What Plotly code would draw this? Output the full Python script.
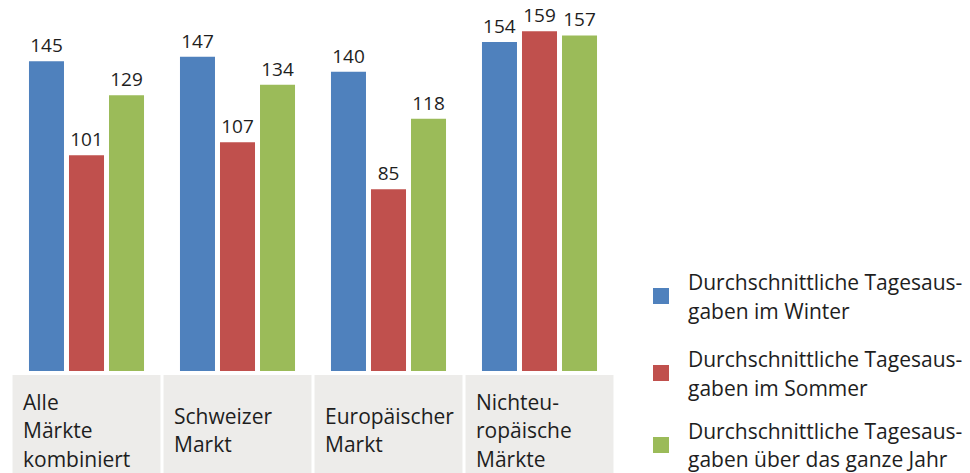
import plotly.graph_objects as go

categories = ["Alle\nMärkte\nkombiniert", "Schweizer\nMarkt", "Europäischer\nMarkt", "Nichteu-\nropäische\nMärkte"]
series_names = [
    "Durchschnittliche Tagesaus-\ngaben im Winter",
    "Durchschnittliche Tagesaus-\ngaben im Sommer",
    "Durchschnittliche Tagesaus-\ngaben über das ganze Jahr",
]
winter = [145, 147, 140, 154]
sommer = [101, 107, 85, 159]
jahr = [129, 134, 118, 157]
colors = ["#4F81BD", "#C0504D", "#9BBB59"]

W, H = 970, 473
ML = 11
PLOT_RIGHT = 615
PLOT_BOTTOM = 371
MT = 9
MR = W - PLOT_RIGHT
MB = H - PLOT_BOTTOM
PW = W - ML - MR
PH = H - MT - MB
FONT = "Open Sans"
TXT = "#1e1e1e"

def px_x(p):
    return (p - ML) / PW

def px_y(p):
    return (PLOT_BOTTOM - p) / PH

xidx = list(range(len(categories)))
fig = go.Figure()
for name, vals, col in zip(series_names, [winter, sommer, jahr], colors):
    fig.add_trace(go.Bar(
        x=xidx, y=vals, name=name.replace("\n", " "), marker=dict(color=col, line=dict(width=0)),
        text=vals, textposition="outside", cliponaxis=False,
        textfont=dict(family=FONT, size=19, color=TXT),
    ))

shapes = []
annotations = []
cat_gap = 28.5
for i, cat in enumerate(categories):
    shapes.append(dict(type="rect", xref="x", yref="paper", x0=i - 0.49, x1=i + 0.49,
                       y0=px_y(375), y1=px_y(H), fillcolor="#EDECEA", line=dict(width=0), layer="below"))
    lines = cat.split("\n")
    n = len(lines)
    for k, ln in enumerate(lines):
        cy = 430 + (k - (n - 1) / 2) * cat_gap
        annotations.append(dict(xref="x", yref="paper", x=i - 0.5, y=px_y(cy), xanchor="left",
                                yanchor="middle", xshift=10, text=ln, showarrow=False,
                                font=dict(family=FONT, size=21, color=TXT)))

leg_gap = 29
leg_centers = [296, 373, 445]
for name, col, cy in zip(series_names, colors, leg_centers):
    shapes.append(dict(type="rect", xref="paper", yref="paper", x0=px_x(653), x1=px_x(669),
                       y0=px_y(cy - 8), y1=px_y(cy + 8), fillcolor=col, line=dict(width=0)))
    lines = name.split("\n")
    for k, ln in enumerate(lines):
        ly = cy + (k - 0.5) * leg_gap
        annotations.append(dict(xref="paper", yref="paper", x=px_x(686), y=px_y(ly), xanchor="left",
                                yanchor="middle", text=ln, showarrow=False,
                                font=dict(family=FONT, size=21, color=TXT)))

fig.update_layout(
    width=W, height=H,
    margin=dict(l=ML, r=MR, t=MT, b=MB),
    paper_bgcolor="white", plot_bgcolor="white",
    barmode="group", bargap=0.205, bargroupgap=0.125,
    showlegend=False,
    xaxis=dict(type="linear", range=[-0.5, len(categories) - 0.5], showticklabels=False, showgrid=False,
               zeroline=False, showline=False, ticks=""),
    yaxis=dict(range=[0, PH / 2.137], showticklabels=False, showgrid=False, zeroline=False, showline=False),
    shapes=shapes, annotations=annotations,
    font=dict(family=FONT),
)

fig.write_html("out.html", config={"displayModeBar": False},
               post_script="document.body.style.margin='0';document.body.style.overflow='hidden';")
